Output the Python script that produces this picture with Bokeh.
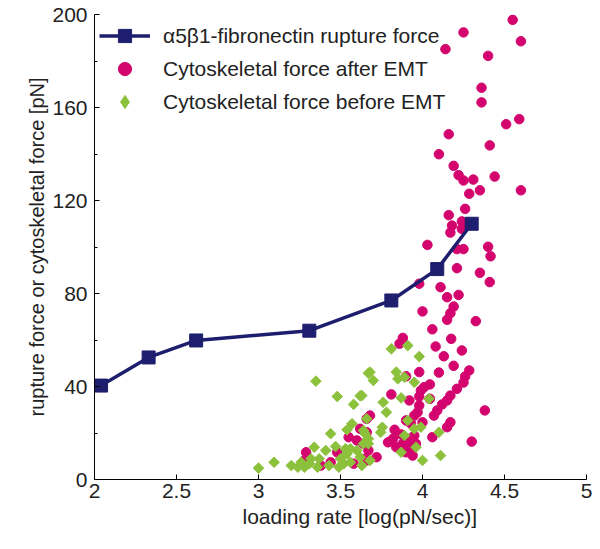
from bokeh.plotting import figure
from bokeh.models import (FixedTicker, CustomJSTickFormatter, Legend, LegendItem, Range1d, Title)
from bokeh.embed import file_html
from bokeh.resources import INLINE

# ---- data ----
rate_line = [2.04, 2.33, 2.62, 3.31, 3.81, 4.09, 4.30]
force_line = [40.4, 52.5, 59.8, 64.0, 77.0, 90.5, 110.0]

after_x = [4.55, 4.25, 4.60, 4.14, 4.40, 4.36, 4.36, 4.51, 4.59, 4.16, 4.41, 4.10, 4.19, 4.22,
           4.25, 4.31, 4.44, 4.285, 4.35, 4.60, 4.26, 4.16, 4.18, 4.24, 4.24, 4.17, 4.03, 4.21,
           4.25, 4.40, 4.415, 4.21, 4.35, 4.41, 3.98, 4.11, 4.15, 4.22, 4.19, 4.17, 4.15, 4.00,
           4.325, 4.06, 4.175, 3.88, 3.86, 4.08, 4.24, 4.13, 4.19, 4.10, 4.285, 4.26, 3.98, 3.90,
           4.25, 4.21, 4.045, 4.01, 3.99, 4.17, 4.15, 3.98, 4.045, 3.92, 3.81, 4.12, 4.09, 3.98,
           3.97, 3.95, 4.07, 4.38, 3.68, 3.90, 3.93, 4.17, 4.15, 4.00, 3.83, 3.87, 3.82, 3.79,
           3.91, 3.95, 4.06, 3.88, 3.84, 3.93, 3.96, 3.90, 3.94, 4.30, 3.66, 3.64, 3.66, 3.72,
           3.67, 3.29, 3.28, 3.44, 3.48, 3.38, 3.62, 3.66, 3.60, 3.65, 3.58, 3.55]
after_y = [197.7, 192.3, 188.5, 185.1, 182.2, 168.5, 162.2, 152.8, 155.0, 148.5, 143.7, 139.9,
           134.9, 130.9, 128.6, 129.0, 130.3, 122.9, 124.4, 124.4, 116.4, 113.7, 109.2, 111.0,
           107.8, 106.2, 100.9, 99.1, 99.1, 100.1, 96.0, 90.9, 88.9, 84.9, 84.2, 82.7, 78.4,
           79.4, 74.4, 71.5, 68.7, 72.3, 68.1, 64.6, 60.5, 60.9, 58.4, 57.2, 55.5, 53.0, 48.9,
           46.0, 46.9, 44.3, 46.2, 44.4, 41.7, 39.0, 40.9, 39.7, 38.3, 36.1, 34.0, 35.7, 34.7,
           34.0, 36.6, 32.3, 29.7, 31.8, 28.9, 27.5, 27.5, 29.7, 27.5, 25.4, 24.0, 24.6, 22.5,
           24.6, 21.4, 19.4, 17.5, 16.0, 17.5, 18.9, 18.2, 15.4, 13.9, 13.9, 15.4, 11.7, 10.3,
           16.3, 20.3, 15.4, 8.2, 9.6, 12.5, 11.7, 8.2, 7.4, 11.7, 6.0, 21.8, 26.1, 16.8, 8.9,
           6.8, 18.2]

before_x = [3.35, 3.48, 3.62, 3.58, 3.67, 3.44, 3.54, 3.57, 3.34, 3.41, 3.47, 3.00, 3.095, 3.20,
            3.24, 3.26, 3.32, 3.37, 3.36, 3.43, 3.50, 3.52, 3.56, 3.56, 3.60, 3.62, 3.49, 3.53,
            3.54, 3.64, 3.67, 3.65, 3.28, 3.31, 3.81, 3.91, 3.98, 3.68, 3.70, 3.84, 3.85, 3.89,
            3.95, 3.87, 4.04, 3.63, 3.76, 3.78, 3.66, 3.755, 3.745, 3.64, 3.91, 3.95, 3.99, 3.89,
            4.10, 3.67, 3.87, 3.96, 4.00, 4.11, 3.63, 3.68]
before_y = [42.3, 35.7, 36.0, 32.3, 45.7, 19.7, 21.4, 24.0, 13.9, 12.5, 14.2, 4.9, 7.4, 6.0,
            5.3, 7.4, 8.9, 8.9, 5.3, 6.0, 8.9, 6.8, 7.4, 13.2, 12.5, 9.6, 5.3, 13.2, 11.1, 15.4,
            17.5, 19.7, 5.3, 6.8, 56.2, 57.6, 52.9, 46.2, 42.6, 46.2, 43.3, 44.0, 41.8, 35.1,
            34.7, 36.1, 33.2, 28.9, 26.1, 22.5, 20.3, 21.1, 25.4, 21.8, 22.5, 18.9, 20.3, 15.4,
            11.7, 13.9, 8.2, 10.3, 6.0, 8.2]

x_ticks = [2, 2.5, 3, 3.5, 4, 4.5, 5]
y_ticks = [0, 40, 80, 120, 160, 200]
y_minor = [20, 60, 100, 140, 180]

NAVY = "#1E1E6E"
MAGENTA = "#D4046F"
GREEN = "#8CC13C"
FONT = "Liberation Sans"

p = figure(width=592, height=541, output_backend="svg", toolbar_location=None,
           x_range=Range1d(2, 5), y_range=Range1d(0, 200),
           min_border_left=94, min_border_right=6, min_border_top=14, min_border_bottom=62)
p.outline_line_color = None
p.xgrid.visible = False
p.ygrid.visible = False
p.background_fill_color = "white"

after = p.scatter(x=after_x, y=after_y, marker="circle", size=9.5,
                  fill_color=MAGENTA, line_color=MAGENTA)
# legend marker for the green series: the first point drawn as a small diamond, hidden under its square
before_key = p.scatter(x=before_x[:1], y=before_y[:1], marker="diamond", size=6,
                       fill_color=GREEN, line_color=GREEN)
before = p.scatter(x=before_x, y=before_y, marker="square", angle=0.785398, size=7.5,
                   fill_color=GREEN, line_color=GREEN)
ln = p.line(x=rate_line, y=force_line, line_color=NAVY, line_width=3.5)
sq = p.scatter(x=rate_line, y=force_line, marker="square", size=13,
               fill_color=NAVY, line_color=NAVY)

legend = Legend(items=[
    LegendItem(label="α5β1-fibronectin rupture force", renderers=[ln, sq]),
    LegendItem(label="Cytoskeletal force after EMT", renderers=[after]),
    LegendItem(label="Cytoskeletal force before EMT", renderers=[before_key]),
], location="top_left")
legend.border_line_color = None
legend.background_fill_alpha = 0
legend.label_text_font = FONT
legend.label_text_font_size = "21px"
legend.label_text_color = "#222222"
legend.glyph_width = 51
legend.glyph_height = 33
legend.label_height = 20
legend.label_standoff = 13
legend.spacing = 0
legend.margin = 5
legend.padding = 0
p.add_layout(legend)

for ax in (p.xaxis[0], p.yaxis[0]):
    ax.axis_line_color = "black"
    ax.axis_line_width = 1
    ax.major_tick_in = 5
    ax.major_tick_out = 0
    ax.minor_tick_in = 3
    ax.minor_tick_out = 0
    ax.major_tick_line_color = "black"
    ax.minor_tick_line_color = "black"
    ax.major_label_text_font = FONT
    ax.major_label_text_font_size = "21px"
    ax.major_label_text_color = "#222222"
    ax.axis_label_text_font = FONT
    ax.axis_label_text_font_style = "normal"
    ax.axis_label_text_color = "#222222"

p.yaxis.axis_label_text_font_size = "20px"
p.xaxis.ticker = FixedTicker(ticks=x_ticks, minor_ticks=[])
p.yaxis.ticker = FixedTicker(ticks=y_ticks, minor_ticks=y_minor)
p.xaxis.formatter = CustomJSTickFormatter(code="return tick.toString()")
p.yaxis.formatter = CustomJSTickFormatter(code="return tick.toString()")
p.yaxis.axis_label = "rupture force or cytoskeletal force [pN]"
p.xaxis.major_label_standoff = 4
p.yaxis.major_label_standoff = 7
p.yaxis.axis_label_standoff = 1

# x-axis title below the axis, a little right of centre as in the original
xtitle = Title(text="loading rate [log(pN/sec)]", align="left", offset=148, standoff=4,
               text_font=FONT, text_font_size="21px", text_font_style="normal",
               text_color="#222222")
p.add_layout(xtitle, "below")

open("out.html", "w").write(file_html(p, INLINE))
